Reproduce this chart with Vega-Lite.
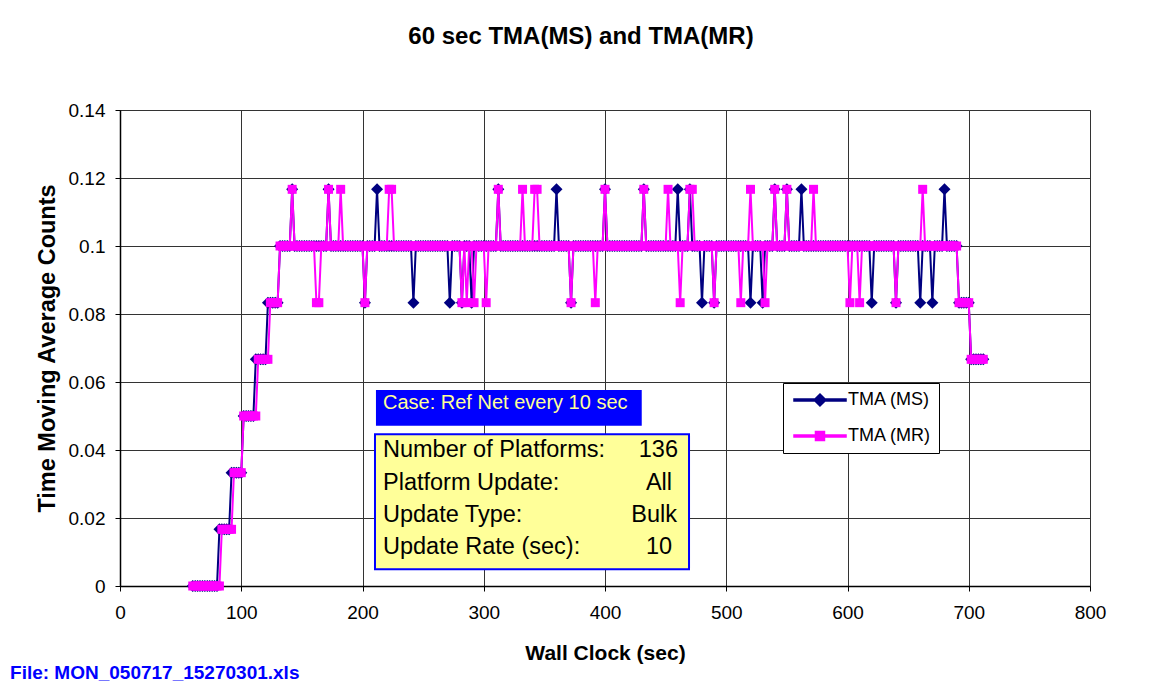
{
"$schema": "https://vega.github.io/schema/vega-lite/v6.json",
"width": 970, "height": 476,
"autosize": {"type": "none"},
"padding": {"left": 120, "top": 110, "right": 59, "bottom": 110},
"background": "white",
"title": {"text": "60 sec TMA(MS) and TMA(MR)", "font": "Liberation Sans", "fontSize": 24, "fontWeight": "bold", "color": "black", "anchor": "middle", "dx": -24, "offset": 52},
"config": {
  "font": "Liberation Sans",
  "view": {"stroke": "#808080", "strokeWidth": 1},
  "axis": {"grid": true, "gridColor": "#333333", "gridWidth": 1, "gridOpacity": 1, "domainColor": "black", "domainWidth": 1.5, "tickColor": "black", "tickSize": 5, "labelFont": "Liberation Sans", "labelFontSize": 19, "labelColor": "black", "titleFont": "Liberation Sans", "titleFontSize": 21, "titleFontWeight": "bold", "titleColor": "black", "labelFlush": false, "labelOverlap": false}
},
"datasets": {
"d": [
{"t":60,"s":0,"r":0},{"t":62,"s":0,"r":0},{"t":64,"s":0,"r":0},{"t":66,"s":0,"r":0},{"t":68,"s":0,"r":0},{"t":70,"s":0,"r":0},{"t":72,"s":0,"r":0},{"t":74,"s":0,"r":0},{"t":76,"s":0,"r":0},{"t":78,"s":0,"r":0},{"t":80,"s":0,"r":0},
{"t":82,"s":0.01667,"r":0},{"t":84,"s":0.01667,"r":0.01667},{"t":86,"s":0.01667,"r":0.01667},{"t":88,"s":0.01667,"r":0.01667},{"t":90,"s":0.01667,"r":0.01667},
{"t":92,"s":0.03333,"r":0.01667},{"t":94,"s":0.03333,"r":0.03333},{"t":96,"s":0.03333,"r":0.03333},{"t":98,"s":0.03333,"r":0.03333},{"t":100,"s":0.03333,"r":0.03333},
{"t":102,"s":0.05,"r":0.05},{"t":104,"s":0.05,"r":0.05},{"t":106,"s":0.05,"r":0.05},{"t":108,"s":0.05,"r":0.05},{"t":110,"s":0.05,"r":0.05},
{"t":112,"s":0.06667,"r":0.05},{"t":114,"s":0.06667,"r":0.06667},{"t":116,"s":0.06667,"r":0.06667},{"t":118,"s":0.06667,"r":0.06667},{"t":120,"s":0.06667,"r":0.06667},
{"t":122,"s":0.08333,"r":0.06667},{"t":124,"s":0.08333,"r":0.08333},{"t":126,"s":0.08333,"r":0.08333},{"t":128,"s":0.08333,"r":0.08333},{"t":130,"s":0.08333,"r":0.08333},
{"t":132,"s":0.1,"r":0.1},{"t":134,"s":0.1,"r":0.1},{"t":136,"s":0.1,"r":0.1},{"t":138,"s":0.1,"r":0.1},{"t":140,"s":0.1,"r":0.1},
{"t":142,"s":0.11667,"r":0.11667},{"t":144,"s":0.1,"r":0.1},{"t":146,"s":0.1,"r":0.1},{"t":148,"s":0.1,"r":0.1},{"t":150,"s":0.1,"r":0.1},
{"t":152,"s":0.1,"r":0.1},{"t":154,"s":0.1,"r":0.1},{"t":156,"s":0.1,"r":0.1},{"t":158,"s":0.1,"r":0.1},{"t":160,"s":0.1,"r":0.1},
{"t":162,"s":0.1,"r":0.08333},{"t":164,"s":0.1,"r":0.08333},{"t":166,"s":0.1,"r":0.1},{"t":168,"s":0.1,"r":0.1},{"t":170,"s":0.1,"r":0.1},
{"t":172,"s":0.11667,"r":0.11667},{"t":174,"s":0.1,"r":0.1},{"t":176,"s":0.1,"r":0.1},{"t":178,"s":0.1,"r":0.1},{"t":180,"s":0.1,"r":0.1},
{"t":182,"s":0.1,"r":0.11667},{"t":184,"s":0.1,"r":0.1},{"t":186,"s":0.1,"r":0.1},{"t":188,"s":0.1,"r":0.1},{"t":190,"s":0.1,"r":0.1},
{"t":192,"s":0.1,"r":0.1},{"t":194,"s":0.1,"r":0.1},{"t":196,"s":0.1,"r":0.1},{"t":198,"s":0.1,"r":0.1},{"t":200,"s":0.1,"r":0.1},
{"t":202,"s":0.08333,"r":0.08333},{"t":204,"s":0.1,"r":0.1},{"t":206,"s":0.1,"r":0.1},{"t":208,"s":0.1,"r":0.1},{"t":210,"s":0.1,"r":0.1},
{"t":212,"s":0.11667,"r":0.1},{"t":214,"s":0.1,"r":0.1},{"t":216,"s":0.1,"r":0.1},{"t":218,"s":0.1,"r":0.1},{"t":220,"s":0.1,"r":0.1},
{"t":222,"s":0.1,"r":0.11667},{"t":224,"s":0.1,"r":0.11667},{"t":226,"s":0.1,"r":0.1},{"t":228,"s":0.1,"r":0.1},{"t":230,"s":0.1,"r":0.1},
{"t":232,"s":0.1,"r":0.1},{"t":234,"s":0.1,"r":0.1},{"t":236,"s":0.1,"r":0.1},{"t":238,"s":0.1,"r":0.1},{"t":240,"s":0.1,"r":0.1},
{"t":242,"s":0.08333,"r":0.1},{"t":244,"s":0.1,"r":0.1},{"t":246,"s":0.1,"r":0.1},{"t":248,"s":0.1,"r":0.1},{"t":250,"s":0.1,"r":0.1},
{"t":252,"s":0.1,"r":0.1},{"t":254,"s":0.1,"r":0.1},{"t":256,"s":0.1,"r":0.1},{"t":258,"s":0.1,"r":0.1},{"t":260,"s":0.1,"r":0.1},
{"t":262,"s":0.1,"r":0.1},{"t":264,"s":0.1,"r":0.1},{"t":266,"s":0.1,"r":0.1},{"t":268,"s":0.1,"r":0.1},{"t":270,"s":0.1,"r":0.1},
{"t":272,"s":0.08333,"r":0.1},{"t":274,"s":0.1,"r":0.1},{"t":276,"s":0.1,"r":0.1},{"t":278,"s":0.1,"r":0.1},{"t":280,"s":0.1,"r":0.1},
{"t":282,"s":0.08333,"r":0.08333},{"t":284,"s":0.1,"r":0.1},{"t":286,"s":0.1,"r":0.08333},{"t":288,"s":0.1,"r":0.1},{"t":290,"s":0.08333,"r":0.1},
{"t":292,"s":0.1,"r":0.08333},{"t":294,"s":0.1,"r":0.1},{"t":296,"s":0.1,"r":0.1},{"t":298,"s":0.1,"r":0.1},{"t":300,"s":0.1,"r":0.1},
{"t":302,"s":0.1,"r":0.08333},{"t":304,"s":0.1,"r":0.1},{"t":306,"s":0.1,"r":0.1},{"t":308,"s":0.1,"r":0.1},{"t":310,"s":0.1,"r":0.1},
{"t":312,"s":0.11667,"r":0.11667},{"t":314,"s":0.1,"r":0.1},{"t":316,"s":0.1,"r":0.1},{"t":318,"s":0.1,"r":0.1},{"t":320,"s":0.1,"r":0.1},
{"t":322,"s":0.1,"r":0.1},{"t":324,"s":0.1,"r":0.1},{"t":326,"s":0.1,"r":0.1},{"t":328,"s":0.1,"r":0.1},{"t":330,"s":0.1,"r":0.1},
{"t":332,"s":0.1,"r":0.11667},{"t":334,"s":0.1,"r":0.1},{"t":336,"s":0.1,"r":0.1},{"t":338,"s":0.1,"r":0.1},{"t":340,"s":0.1,"r":0.1},
{"t":342,"s":0.1,"r":0.11667},{"t":344,"s":0.1,"r":0.11667},{"t":346,"s":0.1,"r":0.1},{"t":348,"s":0.1,"r":0.1},{"t":350,"s":0.1,"r":0.1},
{"t":352,"s":0.1,"r":0.1},{"t":354,"s":0.1,"r":0.1},{"t":356,"s":0.1,"r":0.1},{"t":358,"s":0.1,"r":0.1},{"t":360,"s":0.11667,"r":0.1},
{"t":362,"s":0.1,"r":0.1},{"t":364,"s":0.1,"r":0.1},{"t":366,"s":0.1,"r":0.1},{"t":368,"s":0.1,"r":0.1},{"t":370,"s":0.1,"r":0.1},
{"t":372,"s":0.08333,"r":0.08333},{"t":374,"s":0.1,"r":0.1},{"t":376,"s":0.1,"r":0.1},{"t":378,"s":0.1,"r":0.1},{"t":380,"s":0.1,"r":0.1},
{"t":382,"s":0.1,"r":0.1},{"t":384,"s":0.1,"r":0.1},{"t":386,"s":0.1,"r":0.1},{"t":388,"s":0.1,"r":0.1},{"t":390,"s":0.1,"r":0.1},
{"t":392,"s":0.1,"r":0.08333},{"t":394,"s":0.1,"r":0.1},{"t":396,"s":0.1,"r":0.1},{"t":398,"s":0.1,"r":0.1},{"t":400,"s":0.11667,"r":0.11667},
{"t":402,"s":0.1,"r":0.1},{"t":404,"s":0.1,"r":0.1},{"t":406,"s":0.1,"r":0.1},{"t":408,"s":0.1,"r":0.1},{"t":410,"s":0.1,"r":0.1},
{"t":412,"s":0.1,"r":0.1},{"t":414,"s":0.1,"r":0.1},{"t":416,"s":0.1,"r":0.1},{"t":418,"s":0.1,"r":0.1},{"t":420,"s":0.1,"r":0.1},
{"t":422,"s":0.1,"r":0.1},{"t":424,"s":0.1,"r":0.1},{"t":426,"s":0.1,"r":0.1},{"t":428,"s":0.1,"r":0.1},{"t":430,"s":0.1,"r":0.1},
{"t":432,"s":0.11667,"r":0.11667},{"t":434,"s":0.1,"r":0.1},{"t":436,"s":0.1,"r":0.1},{"t":438,"s":0.1,"r":0.1},{"t":440,"s":0.1,"r":0.1},
{"t":442,"s":0.1,"r":0.1},{"t":444,"s":0.1,"r":0.1},{"t":446,"s":0.1,"r":0.1},{"t":448,"s":0.1,"r":0.1},{"t":450,"s":0.1,"r":0.1},
{"t":452,"s":0.1,"r":0.11667},{"t":454,"s":0.1,"r":0.1},{"t":456,"s":0.1,"r":0.1},{"t":458,"s":0.1,"r":0.1},{"t":460,"s":0.11667,"r":0.1},
{"t":462,"s":0.1,"r":0.08333},{"t":464,"s":0.1,"r":0.1},{"t":466,"s":0.1,"r":0.1},{"t":468,"s":0.1,"r":0.1},{"t":470,"s":0.11667,"r":0.11667},
{"t":472,"s":0.1,"r":0.11667},{"t":474,"s":0.1,"r":0.1},{"t":476,"s":0.1,"r":0.1},{"t":478,"s":0.1,"r":0.1},{"t":480,"s":0.08333,"r":0.1},
{"t":482,"s":0.1,"r":0.1},{"t":484,"s":0.1,"r":0.1},{"t":486,"s":0.1,"r":0.1},{"t":488,"s":0.1,"r":0.1},{"t":490,"s":0.08333,"r":0.08333},
{"t":492,"s":0.1,"r":0.1},{"t":494,"s":0.1,"r":0.1},{"t":496,"s":0.1,"r":0.1},{"t":498,"s":0.1,"r":0.1},{"t":500,"s":0.1,"r":0.1},
{"t":502,"s":0.1,"r":0.1},{"t":504,"s":0.1,"r":0.1},{"t":506,"s":0.1,"r":0.1},{"t":508,"s":0.1,"r":0.1},{"t":510,"s":0.1,"r":0.1},
{"t":512,"s":0.1,"r":0.08333},{"t":514,"s":0.1,"r":0.1},{"t":516,"s":0.1,"r":0.1},{"t":518,"s":0.1,"r":0.1},{"t":520,"s":0.08333,"r":0.11667},
{"t":522,"s":0.1,"r":0.1},{"t":524,"s":0.1,"r":0.1},{"t":526,"s":0.1,"r":0.1},{"t":528,"s":0.1,"r":0.1},{"t":530,"s":0.08333,"r":0.1},
{"t":532,"s":0.1,"r":0.08333},{"t":534,"s":0.1,"r":0.1},{"t":536,"s":0.1,"r":0.1},{"t":538,"s":0.1,"r":0.1},{"t":540,"s":0.11667,"r":0.11667},
{"t":542,"s":0.1,"r":0.1},{"t":544,"s":0.1,"r":0.1},{"t":546,"s":0.1,"r":0.1},{"t":548,"s":0.1,"r":0.1},{"t":550,"s":0.11667,"r":0.11667},
{"t":552,"s":0.1,"r":0.1},{"t":554,"s":0.1,"r":0.1},{"t":556,"s":0.1,"r":0.1},{"t":558,"s":0.1,"r":0.1},{"t":560,"s":0.1,"r":0.1},
{"t":562,"s":0.11667,"r":0.1},{"t":564,"s":0.1,"r":0.1},{"t":566,"s":0.1,"r":0.1},{"t":568,"s":0.1,"r":0.1},{"t":570,"s":0.1,"r":0.1},
{"t":572,"s":0.1,"r":0.11667},{"t":574,"s":0.1,"r":0.1},{"t":576,"s":0.1,"r":0.1},{"t":578,"s":0.1,"r":0.1},{"t":580,"s":0.1,"r":0.1},
{"t":582,"s":0.1,"r":0.1},{"t":584,"s":0.1,"r":0.1},{"t":586,"s":0.1,"r":0.1},{"t":588,"s":0.1,"r":0.1},{"t":590,"s":0.1,"r":0.1},
{"t":592,"s":0.1,"r":0.1},{"t":594,"s":0.1,"r":0.1},{"t":596,"s":0.1,"r":0.1},{"t":598,"s":0.1,"r":0.1},{"t":600,"s":0.1,"r":0.1},
{"t":602,"s":0.1,"r":0.08333},{"t":604,"s":0.1,"r":0.1},{"t":606,"s":0.1,"r":0.1},{"t":608,"s":0.1,"r":0.1},{"t":610,"s":0.1,"r":0.08333},
{"t":612,"s":0.1,"r":0.1},{"t":614,"s":0.1,"r":0.1},{"t":616,"s":0.1,"r":0.1},{"t":618,"s":0.1,"r":0.1},{"t":620,"s":0.08333,"r":0.1},
{"t":622,"s":0.1,"r":0.1},{"t":624,"s":0.1,"r":0.1},{"t":626,"s":0.1,"r":0.1},{"t":628,"s":0.1,"r":0.1},{"t":630,"s":0.1,"r":0.1},
{"t":632,"s":0.1,"r":0.1},{"t":634,"s":0.1,"r":0.1},{"t":636,"s":0.1,"r":0.1},{"t":638,"s":0.1,"r":0.1},{"t":640,"s":0.08333,"r":0.08333},
{"t":642,"s":0.1,"r":0.1},{"t":644,"s":0.1,"r":0.1},{"t":646,"s":0.1,"r":0.1},{"t":648,"s":0.1,"r":0.1},{"t":650,"s":0.1,"r":0.1},
{"t":652,"s":0.1,"r":0.1},{"t":654,"s":0.1,"r":0.1},{"t":656,"s":0.1,"r":0.1},{"t":658,"s":0.1,"r":0.1},{"t":660,"s":0.08333,"r":0.1},
{"t":662,"s":0.1,"r":0.11667},{"t":664,"s":0.1,"r":0.1},{"t":666,"s":0.1,"r":0.1},{"t":668,"s":0.1,"r":0.1},{"t":670,"s":0.08333,"r":0.1},
{"t":672,"s":0.1,"r":0.1},{"t":674,"s":0.1,"r":0.1},{"t":676,"s":0.1,"r":0.1},{"t":678,"s":0.1,"r":0.1},{"t":680,"s":0.11667,"r":0.1},
{"t":682,"s":0.1,"r":0.1},{"t":684,"s":0.1,"r":0.1},{"t":686,"s":0.1,"r":0.1},{"t":688,"s":0.1,"r":0.1},{"t":690,"s":0.1,"r":0.1},
{"t":692,"s":0.08333,"r":0.08333},{"t":694,"s":0.08333,"r":0.08333},{"t":696,"s":0.08333,"r":0.08333},{"t":698,"s":0.08333,"r":0.08333},{"t":700,"s":0.08333,"r":0.08333},
{"t":702,"s":0.06667,"r":0.06667},{"t":704,"s":0.06667,"r":0.06667},{"t":706,"s":0.06667,"r":0.06667},{"t":708,"s":0.06667,"r":0.06667},{"t":710,"s":0.06667,"r":0.06667},{"t":712,"s":0.06667,"r":0.06667}
]
},
"layer": [
{
  "data": {"name": "d"},
  "mark": {"type": "line", "strokeWidth": 2},
  "encoding": {
    "x": {"field": "t", "type": "quantitative", "scale": {"domain": [0, 800], "nice": false, "zero": false},
          "axis": {"title": "Wall Clock (sec)", "values": [0,100,200,300,400,500,600,700,800], "labelPadding": 12, "titlePadding": 20}},
    "y": {"field": "s", "type": "quantitative", "scale": {"domain": [0, 0.14], "nice": false},
          "axis": {"title": "Time Moving Average Counts", "values": [0,0.02,0.04,0.06,0.08,0.1,0.12,0.14], "format": "~g", "labelPadding": 10, "titlePadding": 9, "titleFontSize": 23.5}},
    "color": {"datum": "TMA (MS)", "scale": {"domain": ["TMA (MS)", "TMA (MR)"], "range": ["#000080", "#FF00FF"]},
      "legend": {"title": null, "orient": "none", "legendX": 663, "legendY": 273, "padding": 8, "fillColor": "white", "strokeColor": "black",
        "labelFont": "Liberation Sans", "labelFontSize": 18, "labelColor": "black", "symbolSize": 144, "rowPadding": 18, "labelOffset": 39}}
  }
},
{
  "data": {"name": "d"},
  "mark": {"type": "point", "filled": true, "shape": "diamond", "size": 144, "opacity": 1},
  "encoding": {
    "x": {"field": "t", "type": "quantitative", "title": "Wall Clock (sec)", "scale": {"domain": [0, 800], "nice": false, "zero": false}},
    "y": {"field": "s", "type": "quantitative", "title": "Time Moving Average Counts", "scale": {"domain": [0, 0.14], "nice": false}},
    "color": {"datum": "TMA (MS)"}
  }
},
{
  "data": {"name": "d"},
  "mark": {"type": "line", "strokeWidth": 2},
  "encoding": {
    "x": {"field": "t", "type": "quantitative", "title": "Wall Clock (sec)", "scale": {"domain": [0, 800], "nice": false, "zero": false}},
    "y": {"field": "r", "type": "quantitative", "title": "Time Moving Average Counts", "scale": {"domain": [0, 0.14], "nice": false}},
    "color": {"datum": "TMA (MR)"}
  }
},
{
  "data": {"name": "d"},
  "mark": {"type": "point", "filled": true, "shape": "square", "size": 81, "opacity": 1},
  "encoding": {
    "x": {"field": "t", "type": "quantitative", "title": "Wall Clock (sec)", "scale": {"domain": [0, 800], "nice": false, "zero": false}},
    "y": {"field": "r", "type": "quantitative", "title": "Time Moving Average Counts", "scale": {"domain": [0, 0.14], "nice": false}},
    "color": {"datum": "TMA (MR)"}
  }
},
{
  "data": {"values": []},
  "mark": {"type": "point", "filled": true, "size": 144, "opacity": 1},
  "encoding": {
    "color": {"datum": "TMA (MS)"},
    "shape": {"datum": "TMA (MS)", "scale": {"domain": ["TMA (MS)", "TMA (MR)"], "range": ["M-1,-0.17L7.67,-0.17L7.67,0.17L-1,0.17Z M3.33,-1L4.33,0L3.33,1L2.33,0Z", "M-1,-0.17L7.67,-0.17L7.67,0.17L-1,0.17Z M2.58,-0.75L4.08,-0.75L4.08,0.75L2.58,0.75Z"]}}
  }
},
{
  "data": {"values": [{"xa": 211.1, "xb": 430.3, "ya": 0.05765, "yb": 0.04715}]},
  "mark": {"type": "rect", "fill": "#0000FF"},
  "encoding": {
    "x": {"field": "xa", "type": "quantitative", "title": "Wall Clock (sec)", "scale": {"domain": [0, 800], "nice": false, "zero": false}},
    "x2": {"field": "xb"},
    "y": {"field": "ya", "type": "quantitative", "title": "Time Moving Average Counts", "scale": {"domain": [0, 0.14], "nice": false}},
    "y2": {"field": "yb"}
  }
},
{
  "data": {"values": [{"t": 216.9, "y": 0.0538, "label": "Case: Ref Net every 10 sec"}]},
  "mark": {"type": "text", "align": "left", "baseline": "middle", "font": "Liberation Sans", "fontSize": 20, "color": "#FFFF99"},
  "encoding": {
    "x": {"field": "t", "type": "quantitative", "title": "Wall Clock (sec)", "scale": {"domain": [0, 800], "nice": false, "zero": false}},
    "y": {"field": "y", "type": "quantitative", "title": "Time Moving Average Counts", "scale": {"domain": [0, 0.14], "nice": false}},
    "text": {"field": "label"}
  }
},
{
  "data": {"values": [{"xa": 210.3, "xb": 469.3, "ya": 0.04462, "yb": 0.00491}]},
  "mark": {"type": "rect", "fill": "#FFFF99", "stroke": "#0000FF", "strokeWidth": 2},
  "encoding": {
    "x": {"field": "xa", "type": "quantitative", "title": "Wall Clock (sec)", "scale": {"domain": [0, 800], "nice": false, "zero": false}},
    "x2": {"field": "xb"},
    "y": {"field": "ya", "type": "quantitative", "title": "Time Moving Average Counts", "scale": {"domain": [0, 0.14], "nice": false}},
    "y2": {"field": "yb"}
  }
},
{
  "data": {"values": [
    {"t": 216.9, "y": 0.0399, "label": "Number of Platforms:"},
    {"t": 216.9, "y": 0.03044, "label": "Platform Update:"},
    {"t": 216.9, "y": 0.02088, "label": "Update Type:"},
    {"t": 216.9, "y": 0.01156, "label": "Update Rate (sec):"}
  ]},
  "mark": {"type": "text", "align": "left", "baseline": "middle", "font": "Liberation Sans", "fontSize": 23.5, "color": "black"},
  "encoding": {
    "x": {"field": "t", "type": "quantitative", "title": "Wall Clock (sec)", "scale": {"domain": [0, 800], "nice": false, "zero": false}},
    "y": {"field": "y", "type": "quantitative", "title": "Time Moving Average Counts", "scale": {"domain": [0, 0.14], "nice": false}},
    "text": {"field": "label"}
  }
},
{
  "data": {"values": [
    {"t": 460.2, "y": 0.0399, "label": "136"},
    {"t": 455.3, "y": 0.03044, "label": "All"},
    {"t": 459.4, "y": 0.02088, "label": "Bulk"},
    {"t": 455.3, "y": 0.01156, "label": "10"}
  ]},
  "mark": {"type": "text", "align": "right", "baseline": "middle", "font": "Liberation Sans", "fontSize": 23.5, "color": "black"},
  "encoding": {
    "x": {"field": "t", "type": "quantitative", "title": "Wall Clock (sec)", "scale": {"domain": [0, 800], "nice": false, "zero": false}},
    "y": {"field": "y", "type": "quantitative", "title": "Time Moving Average Counts", "scale": {"domain": [0, 0.14], "nice": false}},
    "text": {"field": "label"}
  }
},
{
  "data": {"values": [{"t": -90.7, "y": -0.0256, "label": "File: MON_050717_15270301.xls"}]},
  "mark": {"type": "text", "align": "left", "baseline": "middle", "font": "Liberation Sans", "fontSize": 19, "fontWeight": "bold", "color": "#0000FF", "clip": false},
  "encoding": {
    "x": {"field": "t", "type": "quantitative", "title": "Wall Clock (sec)", "scale": {"domain": [0, 800], "nice": false, "zero": false}},
    "y": {"field": "y", "type": "quantitative", "title": "Time Moving Average Counts", "scale": {"domain": [0, 0.14], "nice": false}},
    "text": {"field": "label"}
  }
}
]
}
